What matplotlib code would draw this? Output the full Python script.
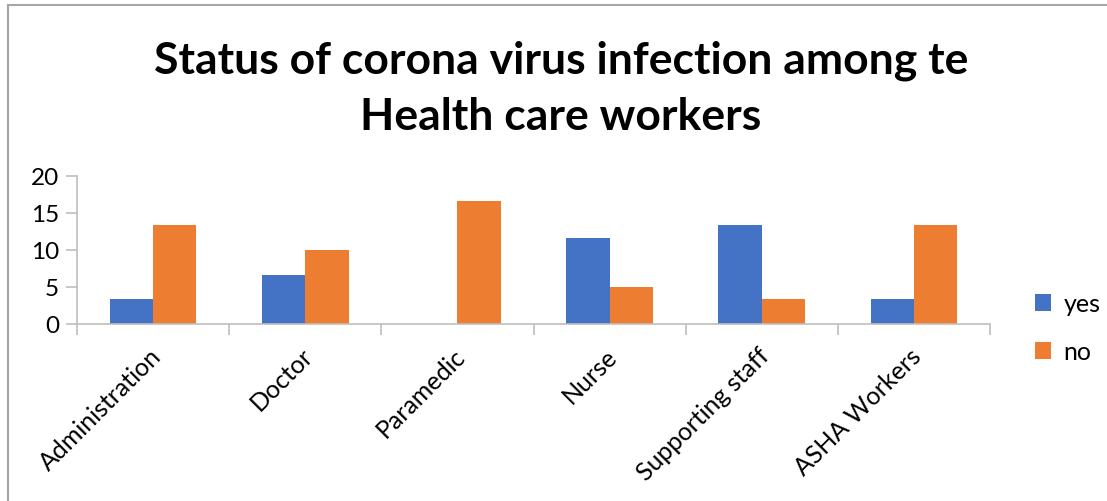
import matplotlib
matplotlib.use("Agg")
import matplotlib.pyplot as plt
import numpy as np
from matplotlib.patches import Patch
from matplotlib.lines import Line2D

categories = ["Administration", "Doctor", "Paramedic", "Nurse", "Supporting staff", "ASHA Workers"]
yes_values = [3.33, 6.67, 0.0, 11.67, 13.33, 3.33]
no_values = [13.33, 10.0, 16.67, 5.0, 3.33, 13.33]
y_ticks = [0, 5, 10, 15, 20]
title_text = "Status of corona virus infection among te\nHealth care workers"

BLUE = "#4472C4"
ORANGE = "#ED7D31"
GRID = "#BFBFBF"

plt.rcParams["font.family"] = ["Lato", "DejaVu Sans"]

W, H = 1107, 502
fig = plt.figure(figsize=(W / 100, H / 100), dpi=100)
ax = fig.add_axes([77 / W, 1 - 325 / H, (990 - 77) / W, (325 - 177) / H])

x = np.arange(len(categories))
bw = 0.285
ax.bar(x - bw / 2, yes_values, bw, color=BLUE, label="yes")
ax.bar(x + bw / 2, no_values, bw, color=ORANGE, label="no")

ax.set_xlim(-0.5, len(categories) - 0.5)
ax.set_ylim(0, 20)
ax.set_yticks(y_ticks)
ax.set_yticklabels([str(v) for v in y_ticks], fontsize=17.5)

# category boundaries carry the tick marks
ax.set_xticks(np.arange(-0.5, len(categories), 1.0))
ax.set_xticklabels([])
ax.tick_params(axis="x", length=8, color=GRID, width=1.2)
ax.tick_params(axis="y", length=8, color=GRID, width=1.2, pad=5)
for i, name in enumerate(categories):
    ax.annotate(name, xy=(i, 0), xycoords=("data", "axes fraction"),
                xytext=(-3, -14), textcoords="offset points",
                rotation=45, ha="right", va="top", rotation_mode="anchor",
                fontsize=18)

for side in ("top", "right"):
    ax.spines[side].set_visible(False)
ax.spines["left"].set_color(GRID)
ax.spines["bottom"].set_color(GRID)
ax.spines["left"].set_linewidth(1.2)
ax.spines["bottom"].set_linewidth(1.2)

fig.text(561 / W, 1 - 89 / H, title_text, ha="center", va="center",
         fontsize=32, fontweight="bold", linespacing=1.5)

handles = [Patch(facecolor=BLUE, label="yes"), Patch(facecolor=ORANGE, label="no")]
fig.legend(handles=handles, loc="center left", bbox_to_anchor=(1012 / W, 1 - 329 / H),
           frameon=False, fontsize=18, handlelength=0.65, handleheight=0.65,
           handletextpad=0.5, labelspacing=1.0)

# outer chart frame (left and top edges)
fig.add_artist(Line2D([7.5 / W, 7.5 / W], [0, 1 - 6 / H], transform=fig.transFigure,
                      color="#A6A6A6", lw=1.5))
fig.add_artist(Line2D([7.5 / W, 1], [1 - 6 / H, 1 - 6 / H], transform=fig.transFigure,
                      color="#A6A6A6", lw=1.5))

fig.savefig("out.png", dpi=100)
